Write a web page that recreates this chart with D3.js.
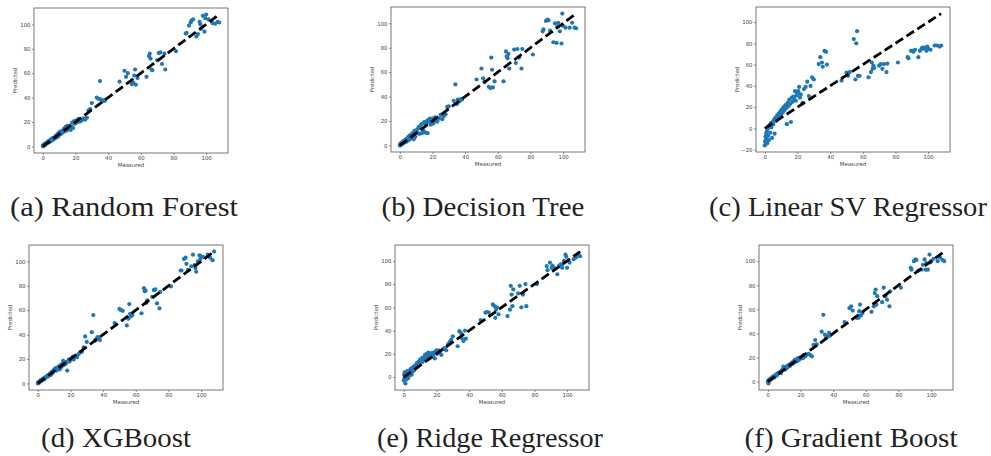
<!DOCTYPE html>
<html>
<head>
<meta charset="utf-8">
<script src="https://cdn.jsdelivr.net/npm/d3@7"></script>
<style>
  body { margin: 0; background: #fff; }
</style>
</head>
<body>
<svg id="chart" width="991" height="456"></svg>
<script>
// measured test values (same for every model)
const measured = [
  0, 0.2, 0.4, 0.5, 0.8, 1, 1.2, 1.5, 1.8, 2, 2.3, 2.6, 3, 3.3, 3.7, 4, 4.4, 4.8, 5.2, 5.6, 6, 6.4, 7, 7.5, 8, 8.5, 9, 9.5, 10,
  10.5, 11, 11.5, 12, 12.6, 13, 13.5, 14, 14.5, 15, 15.5, 16, 16.6, 17, 17.5, 18, 18.5, 19, 19.5, 20,
  20.5, 21, 21.5, 22, 23, 24, 25, 26, 27, 28,
  29, 30, 33, 34, 35, 35.5, 36.5, 37.5, 38,
  47, 50, 51, 52, 54.5, 55.5, 56, 56.5, 57, 58,
  63.5, 65, 65.5, 66, 66.5, 67, 70, 71, 72, 73, 74.5, 75,
  81.5,
  87.5, 88, 89.5, 90.5, 91, 92, 94, 95, 96, 96.5, 97, 98, 99, 99.5, 100, 101.5, 104, 105.5, 107, 108
];

const randomForest = [
  0.5, 0.2, 1.0, 0.3, 1.4, 1.0, 2.0, 1.3, 2.6, 2.2, 3.0, 2.4, 3.8, 3.0, 4.5, 3.6, 5.2, 4.2, 6.0, 5.0, 6.8, 5.5, 7.5, 6.6, 8.8, 7.4, 10.0, 8.2, 11.5,
  10.0, 12.2, 10.5, 13.0, 11.8, 14.5, 12.5, 16.0, 13.0, 16.8, 14.0, 15.5, 17.0, 13.5, 16.0, 19.5, 15.0, 20.5, 18.5, 21.0,
  19.5, 21.5, 20.0, 22.5, 20.5, 21.5, 23.0, 22.0, 23.5, 29.5,
  30.5, 35.5, 40.0, 39.0, 53.5, 38.5, 37.0, 38.0, 37.5,
  53.0, 62.0, 57.0, 60.0, 51.0, 52.0, 58.0, 63.0, 50.5, 56.0,
  57.0, 74.0, 76.0, 72.0, 63.0, 62.5, 70.5, 76.5, 77.0, 67.5, 76.0, 63.0,
  78.0,
  92.5, 93.0, 99.0, 101.5, 103.0, 104.0, 90.0, 92.0, 102.0, 100.0, 96.5, 107.0, 94.0, 105.0, 108.0, 104.0, 101.0, 100.5, 102.0, 101.5
];

const decisionTree = [
  0.0, 0.0, 1.5, 0.5, 1.0, 2.0, 1.0, 2.5, 1.5, 3.0, 2.0, 4.0, 2.5, 3.5, 5.0, 3.0, 5.5, 4.0, 7.0, 4.5, 8.0, 5.5, 9.0, 6.0, 10.0, 5.0, 12.0, 7.0, 11.0,
  13.0, 10.0, 15.0, 9.5, 14.0, 17.0, 10.0, 18.0, 12.0, 19.0, 10.5, 17.5, 20.0, 10.0, 21.0, 19.0, 22.0, 17.0, 20.5, 22.0,
  18.0, 21.0, 23.0, 20.0, 19.5, 22.0, 25.0, 21.5, 24.0, 25.5,
  31.5, 32.0, 36.5, 50.0, 34.0, 37.5, 36.0, 38.0, 37.5,
  54.0, 63.0, 55.0, 52.0, 48.0, 47.0, 72.0, 62.0, 47.5, 52.5,
  52.5, 77.0, 73.0, 71.5, 75.0, 63.0, 78.5, 67.5, 79.0, 72.0, 63.0, 79.0,
  74.5,
  93.5, 95.0, 102.0, 103.0, 102.5, 94.0, 84.5, 100.0, 84.0, 97.5, 100.5, 93.5, 83.5, 108.0, 98.0, 96.5, 96.5, 100.5, 96.5, 96.0
];

const linearSVR = [
  -16, -12, -8, -13, -5, -10, -3, -14, 0, -7, 2, -11, 3, -4, 5, 1, -9, 6, 4, 8, -5, 10, 7, 12, 9, 14, 11, 16, 13,
  18, 15, 20, 17, 22, 19, 4, 24, 21, 27, 23, 6, 29, 25, 30, 28, 35, 26, 31, 33,
  35, 39, 29, 32, 24, 37, 39, 44, 30.5, 40,
  48, 46, 60.5, 67, 62, 58, 73, 72, 60,
  45, 52.5, 49.5, 53, 84, 46, 80, 91.5, 49.5, 49.5,
  48, 53, 62, 56, 59, 57, 59, 60.5, 56, 60.5, 53, 61,
  62,
  67, 66, 73, 73, 72, 74, 67, 73, 75, 76, 75, 76, 73, 77, 75, 74, 78, 78, 77, 78
];

const xgBoost = [
  0, 0.5, 0.8, 1, 0.5, 1.5, 2, 1.8, 2.5, 2, 3, 2.5, 3.5, 4, 3.2, 4.5, 4, 5, 5.5, 6, 5.5, 7, 6.5, 8, 7, 9.5, 8.5, 10, 11.5,
  11, 12.5, 10.5, 13, 12, 14, 11.5, 15, 13.5, 16, 18.5, 15, 17, 16, 17.5, 10.5, 18, 19.5, 18, 20,
  20, 21, 22, 19.5, 22.5, 21.5, 24, 25.5, 26, 29.5,
  38.5, 34, 42, 56, 35, 36, 38, 37.5, 35.5,
  49.5, 61, 60, 59.5, 47.5, 53, 65, 57, 55, 56,
  57.5, 78, 75.5, 76, 66, 68, 71, 76.5, 77, 65.5, 61.5, 75,
  79.5,
  92.5, 92.5, 102, 103, 98, 93, 96, 105.5, 97, 94.5, 91.5, 100, 105, 102, 104, 103.5, 105.5, 103, 101, 108
];

const ridge = [
  -3, 2, -1, 4, 0, -5.5, 3, 1, -2, 5, 2, -1, 4, 1, 6, 3, 7, 2, 8, 5, 9, 6, 10, 8, 12, 9, 13, 11, 15,
  14, 16, 13, 17, 15, 19, 17, 20, 18, 21, 16, 19, 20, 17.5, 21, 18, 20.5, 16, 22, 23,
  20, 22, 23, 21, 19, 24, 25, 23, 28, 30,
  32, 35, 26.5, 39.5, 38, 33.5, 31, 40, 33,
  49, 55.5, 56, 55.5, 62.5, 61, 51, 58, 60, 54,
  52.5, 58, 78.5, 71, 61, 75.5, 72, 78.5, 60, 71, 80, 61,
  80,
  95.5, 92, 98.5, 94, 96, 94, 88.5, 95.5, 97, 96, 94, 100, 105.5, 103.5, 94, 98.5, 101.5, 103, 105, 104
];

const gradientBoost = [
  0, 0.5, -1.5, 1, 1.5, 0.5, 2, 1.5, 2.5, 2, 3, 3.5, 3, 4, 4.5, 3.5, 5, 5.5, 6, 5, 6.5, 7, 7.5, 8, 7, 9, 10, 12.5, 10.5,
  10, 12, 11, 13, 12.5, 14, 13, 15, 14.5, 16, 15, 17, 18, 16.5, 18.5, 17, 19.5, 18, 20, 19,
  20, 21, 19.5, 22, 21, 22.5, 23, 22, 21, 30.5,
  34.5, 31, 41.5, 55.5, 39, 36, 37.5, 40.5, 38,
  49.5, 61, 62.5, 59, 53, 53, 58.5, 64, 55, 57,
  58, 62.5, 73.5, 76.5, 64, 71, 66, 78, 71, 68, 62.5, 75,
  78,
  94.5, 93, 100, 101.5, 101, 92, 93, 97, 101.5, 93, 98.5, 93, 105.5, 99, 100, 102, 100, 103, 101, 100
];

const captions = [
  "(a) Random Forest", "(b) Decision Tree", "(c) Linear SV Regressor",
  "(d) XGBoost", "(e) Ridge Regressor", "(f) Gradient Boost"
];
const predictions = [randomForest, decisionTree, linearSVR, xgBoost, ridge, gradientBoost];

// layout of each panel (frame top-left) and its caption
const frameLeft = [34, 391, 756, 29, 395, 759];
const frameTop = [8, 7, 7, 245, 245, 245];
const frameW = 194, frameH = 145;
const captionX = [124, 483, 848, 116, 490, 851];
const captionY = [216, 216, 216, 447, 447, 447];
const captionW = [228, 203, 278, 150, 226, 213];

const blue = "#1f77b4";
const svg = d3.select("#chart");

function padded(lo, hi) {
  const m = (hi - lo) * 0.05;
  return [lo - m, hi + m];
}

predictions.forEach((pred, i) => {
  const g = svg.append("g")
      .attr("transform", `translate(${frameLeft[i]},${frameTop[i]})`);

  const lineLo = d3.min(measured), lineHi = d3.max(measured);
  const x = d3.scaleLinear()
      .domain(padded(lineLo, lineHi))
      .range([0, frameW]);
  const y = d3.scaleLinear()
      .domain(padded(Math.min(d3.min(pred), lineLo), Math.max(d3.max(pred), lineHi)))
      .range([frameH, 0]);

  const pts = measured.map((m, k) => ({m: m, p: pred[k]}));

  g.append("g")
    .selectAll("circle")
    .data(pts)
    .join("circle")
      .attr("cx", d => x(d.m))
      .attr("cy", d => y(d.p))
      .attr("r", 2.1)
      .attr("fill", blue);

  g.append("line")
      .attr("x1", x(lineLo)).attr("y1", y(lineLo))
      .attr("x2", x(lineHi)).attr("y2", y(lineHi))
      .attr("stroke", "#000")
      .attr("stroke-width", 2.8)
      .attr("stroke-dasharray", "9,4");

  const xAxis = g.append("g")
      .attr("transform", `translate(0,${frameH})`)
      .call(d3.axisBottom(x).ticks(6).tickSize(2).tickPadding(1.5));
  const yAxis = g.append("g")
      .call(d3.axisLeft(y).ticks(6).tickSize(2).tickPadding(1.5));

  [xAxis, yAxis].forEach(a => {
    a.select(".domain").remove();
    a.selectAll(".tick line").attr("stroke", "#444").attr("stroke-width", 0.6);
    a.selectAll(".tick text")
      .attr("fill", "#444")
      .style("font-family", "DejaVu Sans")
      .style("font-size", "5.4px");
  });

  g.append("rect")
      .attr("width", frameW)
      .attr("height", frameH)
      .attr("fill", "none")
      .attr("stroke", "#555")
      .attr("stroke-width", 0.8);

  g.append("text")
      .attr("x", frameW / 2)
      .attr("y", frameH + 14)
      .attr("text-anchor", "middle")
      .attr("fill", "#444")
      .style("font-family", "DejaVu Sans")
      .style("font-size", "5.4px")
      .text("Measured");

  g.append("text")
      .attr("transform", `translate(-17,${frameH / 2}) rotate(-90)`)
      .attr("text-anchor", "middle")
      .attr("fill", "#444")
      .style("font-family", "DejaVu Sans")
      .style("font-size", "5.4px")
      .text("Predicted");

  const cap = svg.append("text")
      .attr("text-anchor", "middle")
      .attr("fill", "#222")
      .style("font-family", "'Liberation Serif', 'Times New Roman', serif")
      .style("font-size", "27px")
      .text(captions[i]);
  // stretch the caption to the width it has in the reference
  const sx = captionW[i] / cap.node().getComputedTextLength();
  cap.attr("transform", `translate(${captionX[i]},${captionY[i]}) scale(${sx},1)`);
});
</script>
</body>
</html>
